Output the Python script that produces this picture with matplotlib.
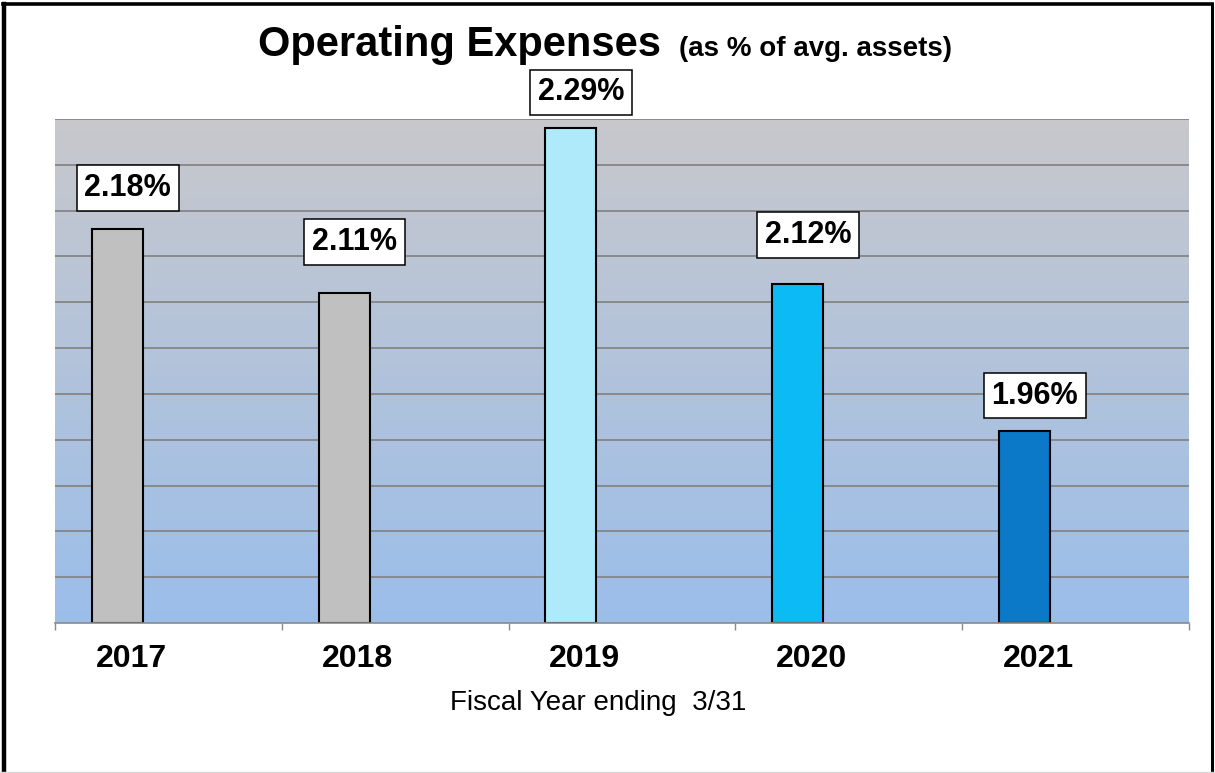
import matplotlib
matplotlib.use("Agg")
import matplotlib.pyplot as plt
from matplotlib.lines import Line2D
import numpy as np

plt.rcParams['font.family'] = ['Liberation Sans', 'DejaVu Sans']

# operating expenses as % of average assets, fiscal years ending 3/31
years = ['2017', '2018', '2019', '2020', '2021']
expense_pct = [2.18, 2.11, 2.29, 2.12, 1.96]
bar_colors = ['#C0C0C0', '#C0C0C0', '#AEEAFA', '#0CBAF4', '#0C78C8']
label_lift = [41, 51, 36, 49, 35]   # px above bar top for each value box

W, H = 1215, 773
fig = plt.figure(figsize=(W / 100, H / 100), dpi=100)
ax = fig.add_axes([55 / W, 1 - 623 / H, 1134 / W, 504 / H])

ymin, ymax = 1.75, 2.30
xmin, xmax = -0.5, 4.5

# gray-to-blue background
top_c = np.array([0.784, 0.784, 0.800])
bot_c = np.array([0.608, 0.745, 0.918])
t = np.linspace(0, 1, 256)[:, None]
grad = (top_c * (1 - t) + bot_c * t)[:, None, :]
ax.imshow(grad, extent=[xmin, xmax, ymin, ymax], aspect='auto', zorder=0,
          interpolation='bilinear', origin='upper')

# horizontal gridlines every 0.05
for g in np.arange(1.80, 2.301, 0.05):
    ax.axhline(g, color='#858585', lw=1.3, zorder=1)

x = np.arange(len(years))
bar_x = x - 0.225
ax.bar(bar_x, [v - ymin for v in expense_pct], bottom=ymin, width=0.225,
       color=bar_colors, edgecolor='black', linewidth=1.5, zorder=2)

for bx, v, lift in zip(bar_x, expense_pct, label_lift):
    ax.annotate(f'{v:.2f}%', xy=(bx + 0.045, v), xytext=(0, lift * 0.72),
                textcoords='offset points', ha='center', va='center',
                fontsize=22, fontweight='bold', zorder=4,
                bbox=dict(boxstyle='square,pad=0.25', fc='white', ec='black', lw=1.1))

ax.set_xlim(xmin, xmax)
ax.set_ylim(ymin, ymax)

# year labels sit left of the category centre, ticks mark category edges
ax.set_xticks(x - 0.165)
ax.set_xticklabels(years, fontsize=23, fontweight='bold')
ax.set_xticks(np.arange(xmin, xmax + 0.01, 1), minor=True)
ax.tick_params(axis='x', which='major', length=0, pad=15)
ax.tick_params(axis='x', which='minor', length=5, color='#8A8A8A', width=1)
ax.set_yticks([])

for s in ['left', 'right', 'top']:
    ax.spines[s].set_visible(False)
ax.spines['bottom'].set_color('#8A8A8A')
ax.spines['bottom'].set_linewidth(1.2)

fig.text(598 / W, 1 - 703 / H, 'Fiscal Year ending  3/31', fontsize=20,
         ha='center', va='center')

fig.text(258 / W, 1 - 56 / H, 'Operating Expenses', fontsize=30,
         fontweight='bold', ha='left', va='baseline')
fig.text(679 / W, 1 - 56 / H, '(as % of avg. assets)', fontsize=20,
         fontweight='bold', ha='left', va='baseline')

# outer frame: heavy on left/top/right, faint along the bottom
fig.add_artist(Line2D([4 / W, 4 / W], [0, 1 - 3.5 / H], color='black', lw=3.2,
                      transform=fig.transFigure))
fig.add_artist(Line2D([2.5 / W, 1212 / W], [1 - 3.5 / H, 1 - 3.5 / H], color='black',
                      lw=2.6, transform=fig.transFigure))
fig.add_artist(Line2D([1211.5 / W, 1211.5 / W], [0, 1 - 3.5 / H], color='black', lw=2.2,
                      transform=fig.transFigure))
fig.add_artist(Line2D([0, 1], [1.5 / H, 1.5 / H], color='#D8D8D8', lw=1,
                      transform=fig.transFigure))

fig.savefig('out.png', dpi=100)
